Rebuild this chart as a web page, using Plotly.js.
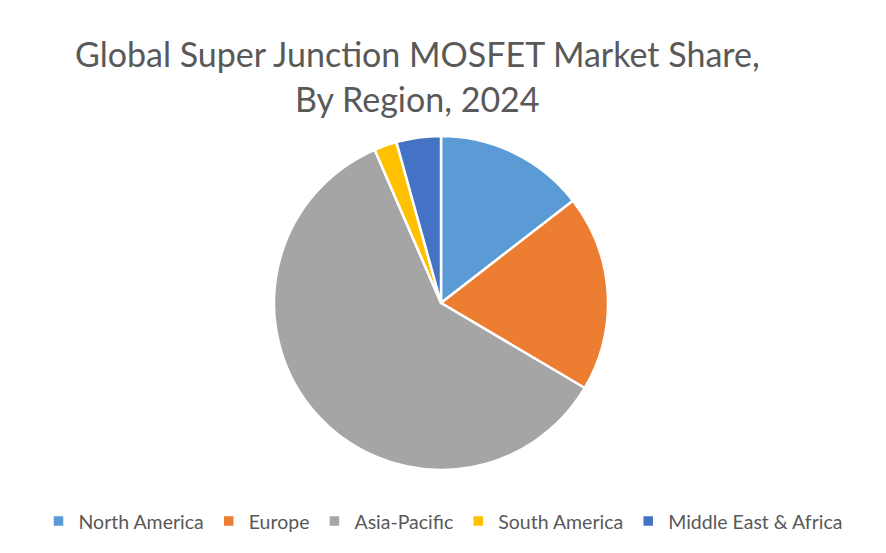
<!DOCTYPE html>
<html><head><meta charset="utf-8">
<script src="https://cdn.plot.ly/plotly-3.0.1.min.js"></script>
<style>html,body{margin:0;padding:0;background:#fff}#chart{width:886px;height:553px}</style>
</head><body><div id="chart"></div>
<script>
const regions = ["North America", "Europe", "Asia-Pacific", "South America", "Middle East & Africa"];
const shares = [14.5, 19.0, 60.0, 2.2, 4.3];
const colors = ["#5B9BD5", "#ED7D31", "#A5A5A5", "#FFC000", "#4472C4"];

const trace = {
  type: "pie",
  labels: regions,
  values: shares,
  sort: false,
  direction: "clockwise",
  rotation: 0,
  textinfo: "none",
  hoverinfo: "label+percent",
  marker: {colors: colors, line: {color: "#FFFFFF", width: 2.5}},
  domain: {x: [0.3093, 0.6862], y: [0.1501, 0.7541]}
};

const layout = {
  width: 886, height: 553,
  margin: {l: 0, r: 0, t: 0, b: 0},
  paper_bgcolor: "#FFFFFF",
  font: {family: "Lato, 'Open Sans', sans-serif", color: "#595959"},
  title: {
    text: "Global Super Junction MOSFET Market Share,<br>By Region, 2024",
    font: {family: "Lato, sans-serif", size: 34, color: "#595959"},
    x: 0.471, xanchor: "center", y: 0.878, yanchor: "top"
  },
  showlegend: true,
  legend: {
    orientation: "h", x: 0.5, xanchor: "center", y: 0.022, yanchor: "bottom",
    font: {family: "Lato, sans-serif", size: 19.5, color: "#595959"},
    traceorder: "normal", itemwidth: 30
  }
};
Plotly.newPlot("chart", [trace], layout, {displayModeBar: false, staticPlot: true});
</script></body></html>
